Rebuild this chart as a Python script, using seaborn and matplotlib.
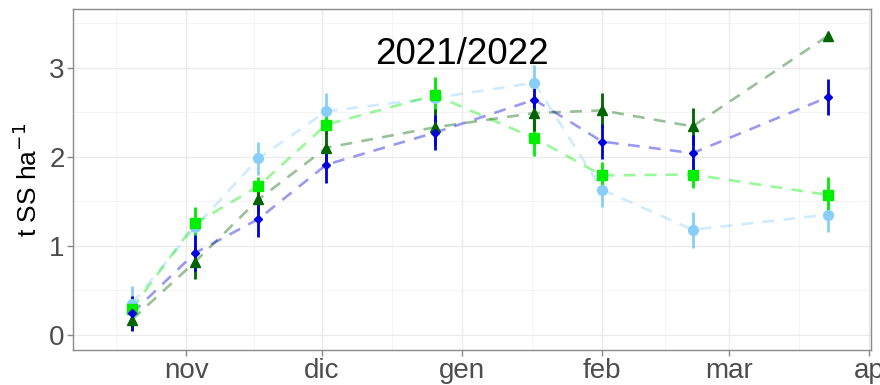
import matplotlib
matplotlib.use("Agg")
import matplotlib.pyplot as plt
import numpy as np
import pandas as pd
import seaborn as sns

# Sampling dates (season 2021/2022)
dates = ["2021-10-20", "2021-11-03", "2021-11-17", "2021-12-02", "2021-12-26",
         "2022-01-17", "2022-02-01", "2022-02-21", "2022-03-23"]

# Dry matter (t SS/ha) per treatment, with half-width of the error bars
lightblue_val = [0.35, 1.21, 1.98, 2.51, 2.66, 2.83, 1.63, 1.18, 1.35]
lightblue_err = [0.20, 0.20, 0.19, 0.20, 0.20, 0.20, 0.20, 0.20, 0.20]
green_val = [0.29, 1.25, 1.67, 2.36, 2.69, 2.21, 1.79, 1.80, 1.57]
green_err = [0.10, 0.19, 0.10, 0.10, 0.20, 0.20, 0.15, 0.15, 0.20]
darkgreen_val = [0.17, 0.82, 1.52, 2.10, 2.33, 2.49, 2.52, 2.34, 3.36]
darkgreen_err = [0.10, 0.19, 0.15, 0.20, 0.20, 0.20, 0.20, 0.21, 0.00]
blue_val = [0.24, 0.92, 1.30, 1.91, 2.27, 2.64, 2.17, 2.04, 2.67]
blue_err = [0.20, 0.20, 0.20, 0.20, 0.20, 0.20, 0.20, 0.20, 0.20]

month_labels = ["nov", "dic", "gen", "feb", "mar", "ap"]
month_starts = ["2021-11-01", "2021-12-01", "2022-01-01", "2022-02-01",
                "2022-03-01", "2022-04-01"]

series = [
    ("lightblue", lightblue_val, lightblue_err, "#87CEFA", "o", 7.0),
    ("green", green_val, green_err, "#00EE00", "s", 6.5),
    ("darkgreen", darkgreen_val, darkgreen_err, "#006400", "^", 7.5),
    ("blue", blue_val, blue_err, "#0000DD", "D", 4.5),
]

x = pd.to_datetime(dates)
frames = []
for name, val, err, col, mk, ms in series:
    frames.append(pd.DataFrame({"date": x, "value": val, "err": err, "trt": name}))
df = pd.concat(frames, ignore_index=True)

sns.set_theme(style="white")
plt.rcParams["font.family"] = ["Liberation Sans", "DejaVu Sans"]

fig = plt.figure(figsize=(8.8, 3.85), dpi=100)
ax = fig.add_axes([0.083, 0.091, 0.907, 0.886])

# dashed connecting lines, semi-transparent
for name, val, err, col, mk, ms in series:
    sub = df[df.trt == name]
    sns.lineplot(data=sub, x="date", y="value", ax=ax, color=col, alpha=0.4,
                 lw=1.9, linestyle=(0, (4.5, 3.5)), zorder=2,
                 legend=False, errorbar=None)

# error bars and points
for name, val, err, col, mk, ms in series:
    sub = df[df.trt == name]
    keep = sub.err > 0
    ax.vlines(sub.date[keep], (sub.value - sub.err)[keep], (sub.value + sub.err)[keep],
              color=col, lw=2.0, zorder=3)
    ax.plot(sub.date, sub.value, linestyle="none", marker=mk, ms=ms,
            color=col, mec=col, zorder=4)

major = pd.to_datetime(month_starts)
ax.set_xticks(major)
ax.set_xticklabels(month_labels)
all_major = pd.to_datetime(["2021-10-01"] + month_starts + ["2022-05-01"])
minor = [all_major[i] + (all_major[i + 1] - all_major[i]) / 2 for i in range(len(all_major) - 1)]
ax.set_xticks(minor, minor=True)
ax.set_yticks([0, 1, 2, 3])
ax.set_yticks([0.5, 1.5, 2.5, 3.5], minor=True)

ax.set_xlim(pd.Timestamp("2021-10-07"), pd.Timestamp("2022-04-01 12:00"))
ax.set_ylim(-0.17, 3.66)

ax.grid(True, which="major", color="#EBEBEB", lw=1.0, zorder=0)
ax.grid(True, which="minor", color="#F4F4F4", lw=0.8, zorder=0)
ax.set_axisbelow(True)

for s in ax.spines.values():
    s.set_color("#8A8A8A")
    s.set_linewidth(1.0)

ax.tick_params(axis="both", which="major", length=4, width=1, color="#8A8A8A",
               labelcolor="#4D4D4D", labelsize=20, pad=2, bottom=True, left=True)
ax.tick_params(axis="both", which="minor", length=0)

ax.set_xlabel("")
ax.set_ylabel(r"t SS ha$^{-1}$", fontsize=19, color="black", labelpad=5)

ax.text(pd.Timestamp("2022-01-01"), 3.15, "2021/2022", ha="center", va="center",
        fontsize=26.5, color="black", zorder=5)

fig.savefig("out.png", dpi=100)
